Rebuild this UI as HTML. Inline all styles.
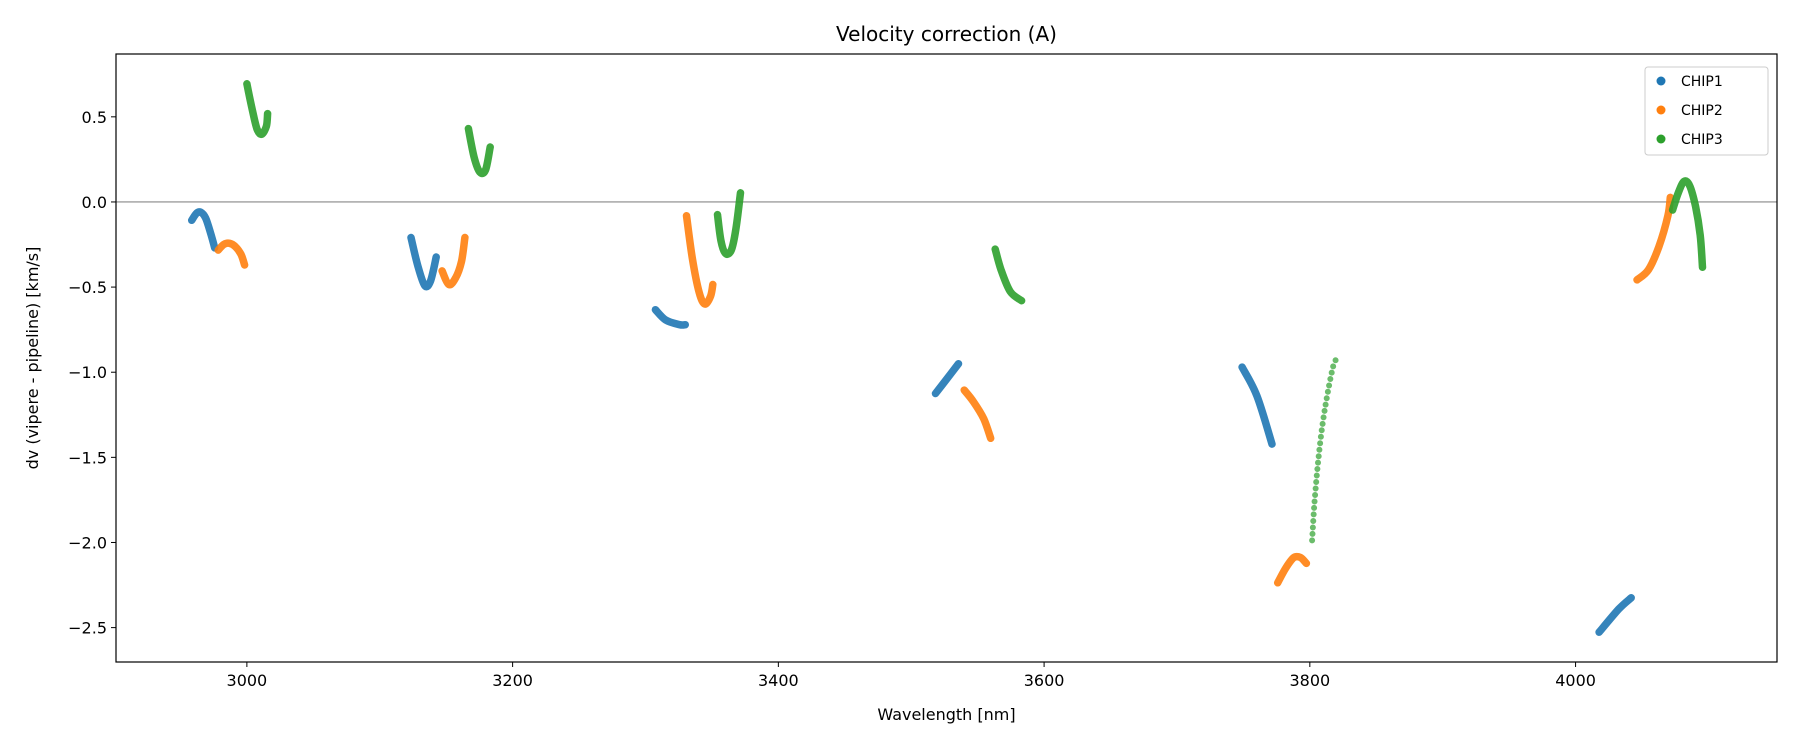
<!DOCTYPE html>
<html><head><meta charset="utf-8"><style>
body{margin:0;background:#fff;font-family:"Liberation Sans","DejaVu Sans",sans-serif}
svg text{font-family:"DejaVu Sans","Liberation Sans",sans-serif;fill:#000}
</style></head><body>
<svg id="c" width="1800" height="750" xmlns="http://www.w3.org/2000/svg"></svg>
<script>
const xTicks=[3000,3200,3400,3600,3800,4000];
const yTicks=[0.5,0.0,-0.5,-1.0,-1.5,-2.0,-2.5];
const yTickLabels=["0.5","0.0","\u22120.5","\u22121.0","\u22121.5","\u22122.0","\u22122.5"];
const chip1=[
 [[2958.5,-0.108],[2962.0,-0.067],[2965.4,-0.061],[2968.9,-0.094],[2972.4,-0.175],[2975.8,-0.270]],
 [[3123.5,-0.209],[3128.7,-0.377],[3133.9,-0.492],[3138.2,-0.465],[3142.5,-0.323]],
 [[3307.5,-0.633],[3315.3,-0.694],[3325.7,-0.721],[3330.0,-0.721]],
 [[3518.3,-1.125],[3526.9,-1.038],[3535.6,-0.950]],
 [[3749.0,-0.970],[3760.2,-1.139],[3771.5,-1.422]],
 [[4017.7,-2.527],[4032.4,-2.392],[4041.9,-2.325]]
];
const chip2=[
 [[2978.4,-0.283],[2982.7,-0.249],[2987.0,-0.243],[2991.4,-0.263],[2995.7,-0.310],[2998.3,-0.370]],
 [[3146.9,-0.405],[3152.0,-0.485],[3157.2,-0.445],[3161.5,-0.350],[3164.1,-0.209]],
 [[3330.9,-0.081],[3335.2,-0.330],[3340.4,-0.532],[3344.7,-0.600],[3349.0,-0.553],[3350.7,-0.485]],
 [[3539.9,-1.105],[3546.8,-1.173],[3554.6,-1.274],[3559.8,-1.388]],
 [[3775.8,-2.237],[3781.9,-2.150],[3787.9,-2.089],[3793.1,-2.089],[3797.4,-2.123]],
 [[4046.2,-0.458],[4054.9,-0.398],[4062.7,-0.263],[4069.5,-0.081],[4071.3,0.027]]
];
const chip3=[
 [[3000.0,0.694],[3004.3,0.533],[3007.8,0.425],[3011.2,0.398],[3014.7,0.445],[3015.6,0.519]],
 [[3166.7,0.431],[3171.0,0.263],[3175.4,0.175],[3179.7,0.189],[3183.1,0.323]],
 [[3354.2,-0.074],[3356.8,-0.229],[3360.3,-0.303],[3364.6,-0.283],[3368.0,-0.162],[3371.5,0.054]],
 [[3563.2,-0.277],[3567.6,-0.398],[3574.5,-0.526],[3583.1,-0.580]],
 [[3801.7,-1.988],[3803.4,-1.779],[3806.0,-1.543],[3809.5,-1.308],[3813.8,-1.105],[3818.1,-0.950],[3821.0,-0.923]],
 [[4073.0,-0.047],[4077.3,0.054],[4081.7,0.121],[4086.0,0.094],[4090.3,-0.027],[4093.8,-0.195],[4095.5,-0.384]]
];
const L=116,R=1777,T=54,B=662,X0=2901.5,X1=4151.6,Y0=-2.702,Y1=0.869;
const sx=v=>L+(v-X0)/(X1-X0)*(R-L);
const sy=v=>B-(v-Y0)/(Y1-Y0)*(B-T);
const svg=document.getElementById('c');
const NS='http://www.w3.org/2000/svg';
function mk(tag,attrs,parent){const e=document.createElementNS(NS,tag);for(const k in attrs)e.setAttribute(k,attrs[k]);(parent||svg).appendChild(e);return e;}
function smooth(p){
 let d='M'+p[0][0].toFixed(1)+','+p[0][1].toFixed(1);
 for(let i=0;i<p.length-1;i++){
  const p0=p[i-1]||p[i],p1=p[i],p2=p[i+1],p3=p[i+2]||p2;
  const c1=[p1[0]+(p2[0]-p0[0])/6,p1[1]+(p2[1]-p0[1])/6];
  const c2=[p2[0]-(p3[0]-p1[0])/6,p2[1]-(p3[1]-p1[1])/6];
  d+=' C'+c1.map(v=>v.toFixed(1)).join(',')+' '+c2.map(v=>v.toFixed(1)).join(',')+' '+p2[0].toFixed(1)+','+p2[1].toFixed(1);
 }
 return d;
}
let z=mk('line',{x1:L,x2:R,y1:sy(0),y2:sy(0),stroke:'#888','stroke-width':1.2});


const series=[[chip1,'#1f77b4','chip1'],[chip2,'#ff7f0e','chip2'],[chip3,'#2ca02c','chip3']];
series.forEach(([segs,col,nm])=>{
 segs.forEach((seg,i)=>{
  const px=seg.map(p=>[sx(p[0]),sy(p[1])]);
  const sparse=(nm==='chip3'&&i===4);
  const a={d:smooth(px),fill:'none',stroke:col,'stroke-width':sparse?6:7.5,'stroke-linecap':'round','stroke-linejoin':'round','stroke-opacity':sparse?0.7:0.9};
  if(sparse){a['stroke-dasharray']='0 6.5';}
  const pl=mk('path',a);
  
  
 });
});
let fr=mk('rect',{x:L,y:T,width:R-L,height:B-T,fill:'none',stroke:'#000','stroke-width':1.2});


xTicks.forEach(v=>{
 mk('line',{x1:sx(v),x2:sx(v),y1:B,y2:B+5,stroke:'#000','stroke-width':1});
 const t=mk('text',{x:sx(v),y:B+24,'text-anchor':'middle','font-size':16});
 t.textContent=v;
 
 
});
yTicks.forEach((v,i)=>{
 mk('line',{x1:L-5,x2:L,y1:sy(v),y2:sy(v),stroke:'#000','stroke-width':1});
 const t=mk('text',{x:L-9,y:sy(v)+6,'text-anchor':'end','font-size':16});
 t.textContent=yTickLabels[i];
 
 
});
let tt=mk('text',{x:(L+R)/2,y:41,'text-anchor':'middle','font-size':20});
tt.textContent='Velocity correction (A)';


let xl=mk('text',{x:(L+R)/2,y:720,'text-anchor':'middle','font-size':16});
xl.textContent='Wavelength [nm]';


let yl=mk('text',{x:0,y:0,'text-anchor':'middle','font-size':16,transform:'translate(38,'+((T+B)/2)+') rotate(-90)'});
yl.textContent='dv (vipere - pipeline) [km/s]';


let lg=mk('g',{});


mk('rect',{x:1645,y:67,width:123,height:88,rx:3,fill:'#fff',stroke:'#ccc','stroke-width':1},lg);
series.forEach(([segs,col,nm],i)=>{
 const y=81+i*29;
 const g=mk('g',{},lg);
 
 
 mk('circle',{cx:1661,cy:y,r:4.5,fill:col},g);
 const t=mk('text',{x:1681,y:y+5,'font-size':14},g);
 t.textContent=nm.toUpperCase();
});
</script>
</body></html>
